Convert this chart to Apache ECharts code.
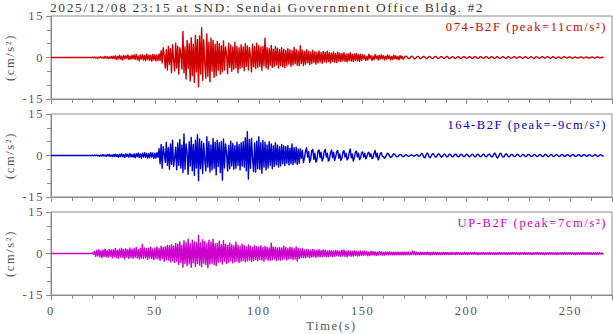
<!DOCTYPE html>
<html lang="en">
<head>
    <meta charset="UTF-8"/>
    <title>SND accelerograms</title>
    <script src="https://cdn.jsdelivr.net/npm/echarts@6/dist/echarts.min.js"></script>
    <style>
        html, body {margin: 0; padding: 0; background: #fff;}
        #main text {letter-spacing: 1.6px;}
    </style>
</head>
<body>

<div id="main" style="width: 613px;height:334px;"></div>

<script type="text/javascript">
    var title = '2025/12/08 23:15 at SND: Sendai Government Office Bldg. #2';
    var channels = ['074-B2F (peak=11cm/s\u00b2)', '164-B2F (peak=-9cm/s\u00b2)', 'UP-B2F (peak=7cm/s\u00b2)'];
    var colors = ['#d00000', '#0000cc', '#cc00cc'];
    var dt = 0.5; // seconds between samples

    // 074-B2F, cm/s2, every 0.5 s
    var ch074 = [
        0,0,0,0,0,0,0,0,0,0,0,0,0,0,0,0,0,0,0,0,
        0,0,0,0,0,0,0,0,0,0,0,0,0,0,0,0,0,0,0,0,
        0.1,-0.1,0.2,-0.2,0.1,-0.3,0.2,-0.1,0.3,-0.2,0.2,-0.3,0.4,-0.2,0.3,-0.4,0.2,-0.3,0.4,-0.3,
        0.5,-0.4,0.6,-0.7,0.4,-0.5,0.8,-0.6,0.5,-0.9,0.7,-0.5,0.6,-0.4,0.9,-0.7,0.5,-0.6,0.8,-0.5,
        0.9,-0.7,1.1,-0.8,0.6,-1.2,0.9,-0.6,1.0,-0.9,0.7,-1.1,1.2,-0.8,0.9,-1.0,0.8,-1.3,1.1,-0.9,
        1.0,-1.2,0.9,-1.1,1.3,-1.0,2.5,-2.0,3.5,0.8,-3.8,2.8,-4.5,4.0,-2.5,3.2,-5.5,4.6,-1.0,-4.8,
        5.2,-3.8,4.1,-6.0,3.5,1.2,-4.2,9.4,-5.5,3.8,-7.8,6.2,-4.0,5.0,-8.5,7.2,-6.5,4.8,-9.0,8.0,
        -5.2,6.5,-10.6,7.8,-6.0,10.8,-8.2,6.4,-2.0,-7.5,8.5,-6.8,5.5,-8.8,7.0,-5.0,6.2,-7.2,4.8,-6.5,
        5.8,-4.6,5.0,-6.0,4.2,-5.2,6.0,-4.5,3.8,1.0,-5.8,5.2,-3.6,4.5,-5.0,3.8,-4.2,5.5,-3.8,4.0,
        -5.5,3.5,-4.0,4.6,-3.5,3.8,-4.8,5.0,-3.2,4.2,-4.5,3.6,0.5,-5.2,4.8,-3.4,3.9,-4.0,5.2,-3.6,
        4.4,-3.2,3.8,-4.6,4.0,-3.0,7.0,-3.8,3.5,-4.2,3.2,-2.8,4.4,-3.6,3.0,-3.2,4.0,-2.6,3.4,-3.8,
        2.8,-2.9,3.5,-3.3,3.0,-3.6,2.6,-3.0,3.2,-2.4,2.8,-3.2,2.5,-2.7,3.6,-2.2,2.9,-2.8,2.4,-3.0,
        4.3,-2.2,2.6,-3.0,2.2,-2.4,2.8,-1.9,2.3,-2.6,2.0,-2.2,2.6,-1.8,2.1,-2.4,1.9,-2.0,2.4,-1.7,
        1.8,-2.1,2.2,-1.6,1.9,-1.8,2.3,-1.5,1.7,-2.0,1.6,-1.4,2.0,-1.7,1.5,-1.8,1.9,-1.3,1.6,-1.5,
        1.5,-1.2,1.8,-1.4,1.2,-1.6,1.4,-1.1,1.7,-1.3,1.2,-1.5,1.3,-1.0,1.5,-1.2,1.1,-1.4,1.2,-1.0,
        1.0,-0.6,0.8,-1.1,0.4,-0.9,1.2,-0.5,0.7,-1.0,0.5,-0.8,1.1,-0.4,0.6,-0.9,0.8,-0.6,0.9,-0.5,
        0.7,-0.8,0.5,-0.6,0.9,-0.4,0.6,-0.8,0.4,-0.7,0.8,-0.5,0.6,-0.6,0.4,-0.8,0.7,-0.4,0.5,-0.6,
        -0.1,0.4,0.5,0.1,-0.4,-0.4,0.1,0.5,0.3,-0.2,-0.5,-0.3,0.2,0.4,0.2,-0.3,-0.4,-0.1,0.3,0.4,
        0.1,-0.3,-0.4,0.0,0.4,0.3,-0.1,-0.4,-0.3,0.2,0.4,0.2,-0.3,-0.3,-0.1,0.3,0.3,0.0,-0.3,-0.3,
        0.1,0.4,0.2,-0.3,-0.3,-0.1,0.3,0.3,-0.1,-0.3,-0.2,0.2,0.3,0.1,-0.3,-0.3,0.0,0.3,0.3,-0.1,
        -0.3,-0.2,0.2,0.3,0.1,-0.3,-0.3,0.1,0.3,0.2,-0.2,-0.3,-0.1,0.3,0.3,-0.1,-0.3,-0.2,0.2,0.3,
        0.1,-0.3,-0.3,0.1,0.3,0.2,-0.2,-0.3,-0.1,0.3,0.3,-0.1,-0.3,-0.2,0.1,0.3,0.1,-0.2,-0.3,0.0,
        0.3,0.2,-0.1,-0.3,-0.1,0.2,0.3,0.1,-0.3,-0.2,0.1,0.3,0.2,-0.1,-0.3,-0.1,0.2,0.3,0.0,-0.3,
        -0.2,0.1,0.3,0.1,-0.2,-0.3,0.0,0.3,0.2,-0.1,-0.3,-0.1,0.2,0.3,0.1,-0.2,-0.2,0.1,0.3,0.1,
        -0.2,-0.3,0.0,0.3,0.2,-0.1,-0.3,-0.1,0.2,0.2,-0.1,-0.3,-0.1,0.1,0.3,0.1,-0.2,-0.2,0.1,0.2,
        0.1,-0.1,-0.3,-0.1,0.2,0.2,-0.1,-0.2,-0.1,0.1,0.2,0.1,-0.2,-0.2,0.0,0.2,0.1,-0.1,-0.2,-0.1,
        0.1,0.2,0.0,-0.2,-0.1,0.1,0.2,0.1,-0.1,-0.1,0.0,0.1,0.0
    ];

    // 164-B2F
    var ch164 = [
        0,0,0,0,0,0,0,0,0,0,0,0,0,0,0,0,0,0,0,0,
        0,0,0,0,0,0,0,0,0,0,0,0,0,0,0,0,0,0,0,0,
        0.1,-0.1,0.2,-0.1,0.2,-0.2,0.1,-0.3,0.2,-0.2,0.3,-0.2,0.2,-0.3,0.3,-0.2,0.4,-0.3,0.2,-0.4,
        0.4,-0.3,0.5,-0.4,0.3,-0.6,0.5,-0.4,0.6,-0.5,0.4,-0.7,0.6,-0.4,0.5,-0.6,0.7,-0.5,0.4,-0.6,
        0.6,-0.8,0.7,-0.5,0.9,-0.7,0.6,-0.9,0.8,-0.6,1.0,-0.7,0.8,-0.9,0.7,-0.8,1.1,-0.6,0.9,-1.0,
        0.8,-0.9,1.0,-0.7,2.5,-3.0,4.0,-4.6,3.2,0.6,-2.5,4.8,-3.5,2.8,-5.0,4.2,-3.2,5.5,-4.0,-1.0,
        3.0,-5.2,4.5,-3.6,5.8,-4.5,3.8,-6.2,7.8,-5.0,4.2,1.0,-6.8,5.0,-3.8,6.5,-5.5,4.0,-7.2,5.5,
        -4.5,7.5,-9.1,6.0,-4.8,5.2,-6.5,4.4,-1.5,-5.5,6.8,-4.2,5.0,-6.0,3.8,-5.2,6.2,-4.6,4.8,-7.0,
        5.5,-4.0,4.6,-6.2,5.0,-8.9,6.0,-4.5,4.2,0.8,-5.6,3.6,-4.8,5.2,-3.8,4.4,-5.0,3.5,-4.6,4.8,
        -3.6,4.0,-5.2,4.6,-3.8,5.0,-4.2,6.4,-5.5,8.6,-8.5,5.8,-4.6,6.2,-1.0,-5.8,4.5,-6.0,5.2,-4.8,
        6.8,-5.0,4.6,-6.4,5.4,-4.2,4.8,-5.2,3.8,-4.5,5.0,-3.6,4.2,-4.8,3.5,-4.0,4.6,-3.4,3.8,-4.2,
        3.2,-3.8,4.0,-3.0,3.5,-3.6,3.2,-2.8,3.6,-3.4,2.6,-3.0,4.2,-3.3,2.8,-2.6,3.0,-3.2,2.4,-2.8,
        2.4,-1.0,1.8,-2.6,-0.8,1.6,2.8,-0.6,1.4,-2.5,-1.2,1.8,2.2,-1.4,0.8,-2.4,-1.5,1.6,2.0,-0.8,
        1.2,-2.0,-1.0,1.4,2.2,-0.6,0.8,-2.0,-1.4,1.0,2.0,-0.8,1.2,-1.8,-0.6,1.4,1.8,-1.0,0.6,-1.8,
        -1.0,1.2,1.8,-0.6,0.8,-1.6,-1.0,1.0,2.4,-0.8,0.6,-2.0,-0.8,1.2,1.6,-0.6,0.8,-1.5,-0.8,1.0,
        1.3,-0.6,0.8,-1.2,-0.5,0.9,1.2,-0.4,0.6,-1.1,-0.8,0.9,1.8,-0.6,0.8,-1.6,-0.6,0.8,1.0,-0.4,
        -0.4,-1.0,-0.6,0.3,0.8,0.5,-0.3,-0.7,-0.5,0.2,0.6,0.4,-0.2,-0.5,-0.4,0.1,0.4,0.3,-0.2,-0.4,
        -0.2,0.2,0.3,0.0,-0.3,-0.2,0.1,0.2,0.1,-0.2,-0.2,0.1,0.3,0.1,-0.3,-0.2,0.4,0.8,0.2,-0.7,
        -0.8,0.2,0.9,0.5,-0.5,-0.8,-0.2,0.6,0.7,0.0,-0.6,-0.5,0.2,0.6,0.4,-0.3,-0.6,-0.2,0.4,0.5,
        0.0,-0.5,-0.4,0.3,0.5,0.2,-0.4,-0.5,0.0,0.5,0.4,-0.2,-0.5,-0.3,0.3,0.5,0.1,-0.4,-0.4,0.1,
        0.5,0.3,-0.3,-0.5,-0.1,0.4,0.4,-0.1,-0.5,-0.3,0.3,0.5,0.1,-0.4,-0.4,0.1,0.5,0.3,-0.3,-0.5,
        -0.1,0.4,0.5,0.0,-0.5,-0.4,0.3,0.9,0.4,-0.6,-0.9,-0.2,0.7,0.8,0.0,-0.6,-0.5,0.2,0.6,0.3,
        -0.3,-0.5,-0.1,0.4,0.4,-0.1,-0.4,-0.3,0.2,0.4,0.2,-0.3,-0.4,0.0,0.4,0.3,-0.2,-0.4,-0.2,0.3,
        0.4,0.1,-0.3,-0.4,0.0,0.4,0.3,-0.2,-0.4,-0.1,0.3,0.4,0.0,-0.4,-0.3,0.2,0.4,0.2,-0.3,-0.4,
        0.0,0.4,0.3,-0.2,-0.4,-0.1,0.3,0.3,-0.1,-0.4,-0.2,0.2,0.4,0.1,-0.3,-0.3,0.1,0.3,0.2,-0.2,
        -0.3,0.0,0.3,0.3,-0.1,-0.3,-0.2,0.2,0.3,0.1,-0.3,-0.3,0.1,0.3,0.2,-0.2,-0.3,0.0,0.3,0.2,
        -0.1,-0.3,-0.1,0.2,0.3,0.0,-0.3,-0.2,0.1,0.3,0.1,-0.2,-0.1
    ];

    // UP-B2F
    var chUP = [
        0,0,0,0,0,0,0,0,0,0,0,0,0,0,0,0,0,0,0,0,
        0,0,0,0,0,0,0,0,0,0,0,0,0,0,0,0,0,0,0,0,
        0.2,-0.3,0.8,-1.0,1.2,-0.9,1.4,-1.2,1.0,-1.5,1.3,-1.1,1.6,-1.2,1.1,-1.4,1.5,-1.0,1.3,-1.6,
        1.4,-1.2,1.8,-1.5,1.2,-1.7,1.6,-1.3,1.9,-1.4,1.5,-2.0,1.7,-1.3,1.4,-1.8,2.0,-1.5,1.6,-1.7,
        1.8,-1.4,2.2,-1.6,1.5,-2.0,1.8,-1.7,3.3,-1.8,2.0,-1.5,1.7,-2.1,1.9,-1.6,2.3,-1.8,1.6,-2.2,
        2.0,-1.8,2.4,-2.0,1.8,-2.5,2.6,-1.9,2.2,-2.8,2.5,-2.2,3.0,-2.4,2.8,-3.0,3.2,-2.6,2.7,-3.2,
        3.6,-2.8,3.4,-4.0,4.2,-3.2,3.0,-5.0,4.6,-3.6,4.0,-4.4,5.2,-3.8,3.6,-5.0,4.8,-3.4,4.2,-4.6,
        4.0,-3.6,6.5,-4.2,3.8,-4.8,5.0,-3.5,4.4,-4.0,3.6,-5.1,4.8,-3.8,4.2,-3.6,5.2,-4.0,3.5,-4.4,
        3.6,-3.2,4.5,-3.0,3.2,-3.8,4.6,-2.8,3.4,-3.6,3.0,-3.2,3.8,-2.6,3.2,-3.4,2.8,-3.0,4.2,-2.8,
        3.0,-3.2,2.6,-2.8,3.4,-2.5,2.8,-3.0,2.4,-2.6,3.1,-2.4,2.6,-2.8,2.2,-2.6,2.8,-2.2,2.5,-2.6,
        2.4,-2.2,2.8,-2.4,2.2,-2.8,2.6,-2.0,2.3,-2.4,2.0,-2.5,3.7,-2.2,2.4,-2.0,2.2,-2.6,2.0,-2.2,
        2.2,-2.4,2.0,-2.2,2.6,-1.8,2.2,-2.4,1.8,-2.0,2.3,-1.9,2.1,-2.2,1.8,-2.0,2.4,-2.7,1.9,-1.8,
        1.6,-1.4,1.8,-1.5,1.3,-1.6,1.5,-1.2,1.4,-1.5,1.2,-1.3,1.5,-1.1,1.3,-1.4,1.2,-1.1,1.4,-1.2,
        1.1,-1.2,1.3,-1.0,1.2,-1.1,0.9,-1.2,1.1,-0.9,1.0,-1.1,0.9,-1.0,1.1,-0.8,1.0,-0.9,0.8,-1.0,
        1.2,-0.9,1.3,-1.0,0.9,-1.2,1.0,-0.8,0.9,-1.0,0.8,-0.9,1.0,-0.7,0.8,-0.9,0.7,-0.8,0.9,-0.7,
        0.8,-0.7,0.9,-0.6,0.7,-0.8,0.6,-0.7,0.8,-0.6,0.7,-0.6,0.6,-0.7,0.5,-0.6,0.7,-0.5,0.6,-0.6,
        0.5,-0.6,0.6,-0.5,0.5,-0.5,0.6,-0.5,0.5,-0.5,0.5,-0.5,0.5,-0.5,0.5,-0.5,0.5,-0.5,0.5,-0.5,
        0.5,-0.5,0.5,-0.4,0.5,-0.5,0.4,-0.5,0.9,-0.4,0.7,-0.5,0.5,-0.4,0.4,-0.5,0.5,-0.4,0.4,-0.4,
        0.4,-0.4,0.5,-0.4,0.4,-0.5,0.4,-0.4,0.5,-0.3,0.4,-0.4,0.4,-0.4,0.3,-0.4,0.4,-0.3,0.4,-0.4,
        0.4,-0.3,0.4,-0.4,0.3,-0.4,0.4,-0.3,0.3,-0.4,0.4,-0.3,0.4,-0.3,0.3,-0.4,0.3,-0.3,0.4,-0.3,
        0.3,-0.4,0.3,-0.3,0.4,-0.3,0.3,-0.3,0.4,-0.3,0.3,-0.4,0.3,-0.3,0.3,-0.3,0.4,-0.3,0.3,-0.3,
        0.3,-0.3,0.4,-0.3,0.3,-0.3,0.3,-0.4,0.3,-0.3,0.3,-0.3,0.4,-0.3,0.3,-0.3,0.3,-0.3,0.3,-0.4,
        0.3,-0.3,0.3,-0.3,0.4,-0.3,0.3,-0.3,0.3,-0.3,0.3,-0.4,0.3,-0.3,0.3,-0.3,0.4,-0.3,0.3,-0.3,
        0.3,-0.3,0.3,-0.4,0.3,-0.3,0.3,-0.3,0.4,-0.3,0.3,-0.3,0.3,-0.3,0.3,-0.4,0.3,-0.3,0.3,-0.3,
        0.4,-0.3,0.3,-0.3,0.3,-0.3,0.3,-0.4,0.3,-0.3,0.3,-0.3,0.3,-0.3,0.4,-0.3,0.3,-0.3,0.3,-0.3,
        0.3,-0.3,0.3,-0.3,0.3,-0.4,0.3,-0.3,0.3,-0.3,0.3,-0.3,0.4,-0.3,0.3,-0.3,0.3,-0.3,0.3,-0.3,
        0.3,-0.3,0.3,-0.3,0.3,-0.3,0.3,-0.3,0.3,-0.2,0.2,-0.2,0.0
    ];

    var traces = [ch074, ch164, chUP];
    var xTicks = [0, 50, 100, 150, 200, 250];

    var myChart = echarts.init(document.getElementById('main'), null, {renderer: 'svg'});

    var font = '"Liberation Serif", "DejaVu Serif", serif';
    var axisColor = '#8c8c8c';
    var labelColor = '#555';
    var tops = [16, 114, 212];

    var grids = [], xAxes = [], yAxes = [], series = [], texts = [];

    for (var i = 0; i < 3; i++) {
        var last = i === 2;
        grids.push({
            left: 51, top: tops[i], width: 561, height: 83,
            outerBoundsMode: 'none',
            containLabel: false,
            show: true, borderColor: axisColor, borderWidth: 1
        });
        xAxes.push({
            gridIndex: i,
            type: 'value',
            min: 0, max: 270, interval: 50,
            axisLine: {show: true, onZero: false, lineStyle: {color: axisColor}},
            axisTick: {show: true, inside: false, length: 5, lineStyle: {color: axisColor}},
            minorTick: {show: true, splitNumber: 5, length: 4, lineStyle: {color: axisColor}},
            splitLine: {show: false},
            axisLabel: {
                show: last, color: labelColor, fontFamily: font, fontSize: 12.5, margin: 9,
                formatter: function (v) { return xTicks.indexOf(v) >= 0 ? String(v) : ''; },
                showMaxLabel: false
            },
            name: last ? 'Time(s)' : '',
            nameLocation: 'middle',
            nameGap: 24,
            nameTextStyle: {color: labelColor, fontFamily: font, fontSize: 12.5}
        });
        yAxes.push({
            gridIndex: i,
            type: 'value',
            min: -15, max: 15, interval: 15,
            axisLine: {show: true, lineStyle: {color: axisColor}},
            axisTick: {show: true, inside: false, length: 5, lineStyle: {color: axisColor}},
            minorTick: {show: true, splitNumber: 3, length: 4, lineStyle: {color: axisColor}},
            splitLine: {show: false},
            axisLabel: {color: labelColor, fontFamily: font, fontSize: 12.5, margin: 7},
            name: '(cm/s\u00b2)',
            nameLocation: 'middle',
            nameGap: 32,
            nameRotate: 90,
            nameTextStyle: {color: labelColor, fontFamily: font, fontSize: 12.5}
        });
        series.push({
            type: 'line',
            xAxisIndex: i,
            yAxisIndex: i,
            color: colors[i],
            data: traces[i].map(function (v, k) { return [k * dt, v]; }),
            showSymbol: false,
            symbol: 'none',
            sampling: false,
            itemStyle: {color: colors[i]},
            lineStyle: {color: colors[i], width: 1.4, join: 'round'},
            silent: true
        });
        texts.push({
            type: 'text',
            x: 607,
            y: tops[i] + 17,
            style: {
                text: channels[i], fill: colors[i], font: '12.5px ' + font,
                textAlign: 'right', textVerticalAlign: 'bottom'
            }
        });
    }

    texts.push({
        type: 'text',
        x: 50,
        y: 14.5,
        style: {text: title, fill: '#3a3a3a', font: '13.5px ' + font, textVerticalAlign: 'bottom'}
    });

    var option = {
        animation: false,
        backgroundColor: '#fff',
        grid: grids,
        xAxis: xAxes,
        yAxis: yAxes,
        series: series,
        graphic: texts
    };

    myChart.setOption(option);
</script>
</body>
</html>
